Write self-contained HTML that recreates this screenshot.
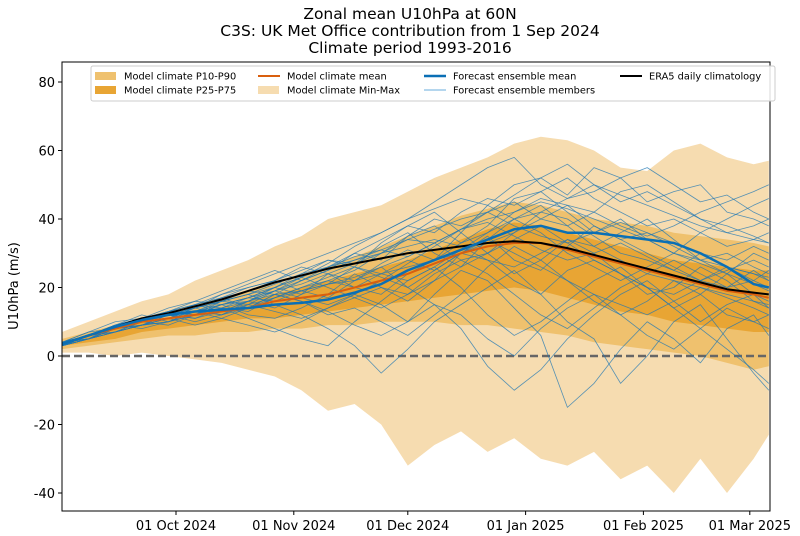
<!DOCTYPE html>
<html><head><meta charset="utf-8"><style>
body{margin:0;background:#fff;}
svg{display:block;font-family:"DejaVu Sans","Liberation Sans",sans-serif;}
</style></head><body>
<svg id="chart" width="800" height="536" viewBox="0 0 800 536">
<g font-size="15.5" text-anchor="middle" fill="#000">
<text x="410" y="19">Zonal mean U10hPa at 60N</text>
<text x="410" y="36">C3S: UK Met Office contribution from 1 Sep 2024</text>
<text x="410" y="53">Climate period 1993-2016</text>
</g>
<defs><clipPath id="pc"><rect x="62" y="62" width="708" height="449"/></clipPath></defs>
<g id="plot" clip-path="url(#pc)"></g>
<rect x="62" y="62" width="708" height="449" fill="none" stroke="#000" stroke-width="1"/>
<g id="axes"></g>
<text x="18" y="286" font-size="13" text-anchor="middle" transform="rotate(-90 18 286)">U10hPa (m/s)</text>
<g id="legend"></g>
</svg>
<script>
const days=[0,7,14,21,28,35,42,49,56,63,70,77,84,91,98,105,112,119,126,133,140,147,154,161,168,175,182,186];
const minMaxUpper=[7,10,13,16,18,22,25,28,32,35,40,42,44,48,52,55,58,62,64,63,60,55,54,60,62,58,56,57];
const minMaxLower=[1,1,0,1,0,-1,-2,-4,-6,-10,-16,-14,-20,-32,-26,-22,-28,-24,-30,-32,-28,-36,-32,-40,-30,-40,-30,-23];
const p90=[5,7,9,11,13,15,17,19,21,23,26,29,32,35,38,41,43,45,44,42,40,39,38,36,35,34,33,32];
const p10=[2,3,4,5,6,6,7,7,8,8,9,9,10,10,10,9,9,8,7,6,4,3,2,1,0,-2,-4,-3];
const p75=[4,6,8,10,11,13,14,16,18,20,22,24,26,28,31,34,37,39,38,36,34,32,30,28,27,26,25,25];
const p25=[3,4,5,7,8,9,10,11,11,12,13,14,15,16,17,18,19,20,19,17,15,13,12,10,9,8,7,7];
const climMean=[3.5,6,8,10,11,12,13,14,16,17,18,20,22,24,27,30,32,33,33,31,29,27,25,23,21,19,18,17];
const era5=[3.5,6,8.5,11,12.5,14.5,16.5,19,21.5,23.5,25.5,27,28.5,30,31,32,33,33.5,33,31.5,29.5,27.5,25.5,23.5,21.5,19.5,18.5,18];
const ensMean=[3.5,6,8.5,10.5,12,13,13.5,14,15,15.5,16.5,18.5,21,25,28,31,34,37,38,36,36,35,34,33,30,26,21,20];
const members=[
[3,6,9,11,12,15,17,14,18,22,25,30,28,35,40,38,42,45,40,38,42,48,50,45,40,38,35,33],
[4,7,8,10,13,14,12,16,20,18,24,22,27,31,28,36,44,50,52,47,55,52,45,48,50,42,40,38],
[3,5,9,12,10,13,16,18,15,12,8,3,-5,2,10,15,20,25,18,10,5,-8,0,10,15,5,-5,-10],
[4,6,8,10,12,11,14,13,17,20,22,25,30,34,33,28,30,36,42,40,35,30,28,25,30,26,22,20],
[3,6,7,9,11,14,18,20,22,19,17,22,26,20,15,8,-3,-10,-4,5,12,18,22,16,10,15,18,14],
[4,7,10,11,14,16,15,12,11,14,18,24,20,16,22,30,35,28,25,32,38,34,30,26,22,20,25,22],
[3,5,8,11,12,10,12,15,19,23,27,32,36,40,45,50,55,58,50,46,48,52,55,50,45,47,42,40],
[4,6,9,8,10,13,11,9,7,10,14,18,15,10,18,25,22,14,6,-15,-8,2,10,5,-2,8,12,6],
[3,6,8,10,9,12,15,17,20,24,28,27,32,36,30,26,34,40,44,38,32,36,40,34,28,30,26,24],
[4,5,8,9,12,15,13,16,14,18,21,26,33,38,42,36,30,24,28,34,30,24,20,14,18,24,30,28],
[3,6,8,11,13,12,16,19,22,26,24,20,18,24,28,33,38,46,48,42,36,40,34,30,36,40,44,46],
[4,6,9,10,11,13,14,11,8,5,3,10,16,22,26,20,12,6,10,16,22,26,20,14,8,2,-4,-8],
[3,5,7,10,12,14,16,18,21,24,26,29,31,34,37,40,42,38,35,33,36,39,36,33,30,28,32,30],
[4,6,8,9,10,12,15,17,16,19,22,20,24,28,25,30,28,22,18,25,28,24,18,20,26,22,16,14],
[3,6,9,11,13,16,19,22,25,22,26,30,34,38,36,42,46,44,48,52,46,42,38,40,36,32,34,36],
[4,5,7,10,11,9,11,14,18,16,12,14,10,6,12,18,26,32,28,22,16,12,16,22,18,12,10,12],
[3,5,8,10,13,15,18,21,24,27,30,33,36,40,43,46,44,40,42,46,50,47,44,41,38,36,34,33],
[4,6,7,9,10,12,13,15,17,19,21,23,26,29,33,37,40,42,45,43,40,37,34,30,27,24,21,19],
[3,6,8,11,12,14,16,15,13,11,14,17,20,18,22,26,30,34,38,33,28,24,20,18,22,26,24,22],
[4,5,7,9,11,13,12,14,17,20,23,26,24,22,26,31,36,40,36,30,26,22,26,30,28,24,18,16],
[3,6,9,10,12,11,13,16,19,17,15,18,22,27,32,37,42,47,52,56,50,45,48,44,40,36,38,40],
[4,6,8,10,12,14,17,19,18,16,13,9,6,10,15,12,5,0,8,14,18,12,6,2,8,14,10,8],
[3,5,7,9,12,14,16,18,20,23,26,28,30,32,34,32,28,26,30,34,32,28,24,22,20,18,16,15],
[4,6,9,11,13,15,14,16,19,22,25,28,31,29,33,37,39,35,31,28,30,33,29,25,22,25,28,26],
[3,5,8,10,11,12,14,17,20,23,20,17,14,18,24,28,24,18,12,8,14,20,24,28,24,20,22,25],
[4,6,8,10,12,13,15,17,19,21,24,27,30,35,38,33,36,42,46,44,38,34,36,32,28,26,24,23],
[3,6,8,9,11,14,17,20,22,25,28,26,23,20,25,30,34,30,26,22,18,15,12,16,20,17,14,12],
[4,5,8,10,12,13,15,16,18,19,21,22,24,26,28,30,33,36,40,44,42,38,35,38,42,45,48,50]
];
const yTicks=[80,60,40,20,0,-20,-40];
const xTickDays=[30,61,91,122,153,181];
const xTickLabels=["01 Oct 2024","01 Nov 2024","01 Dec 2024","01 Jan 2025","01 Feb 2025","01 Mar 2025"];

const NS="http://www.w3.org/2000/svg";
const X=d=>62+d*3.8;
const Y=v=>356-v*3.425;
function mk(tag,attrs,parent){const e=document.createElementNS(NS,tag);for(const k in attrs)e.setAttribute(k,attrs[k]);parent.appendChild(e);return e;}
const plot=document.getElementById('plot');
function band(up,lo,fill){
  let d='M'+days.map((t,i)=>X(t)+','+Y(up[i])).join('L');
  for(let i=days.length-1;i>=0;i--)d+='L'+X(days[i])+','+Y(lo[i]);
  return mk('path',{d:d+'Z',fill:fill},plot);
}
function line(vals,stroke,w,op){
  return mk('path',{d:'M'+days.map((t,i)=>X(t)+','+Y(vals[i])).join('L'),fill:'none',stroke:stroke,'stroke-width':w,'stroke-opacity':op,'stroke-linejoin':'round'},plot);
}
let e;
e=band(minMaxUpper,minMaxLower,'#f6dcb0');


e=band(p90,p10,'#efc16e');


e=band(p75,p25,'#e8a534');


e=mk('line',{x1:62,x2:770,y1:Y(0),y2:Y(0),stroke:'#666','stroke-width':2.5,'stroke-dasharray':'8,4'},plot);


members.forEach((m,i)=>{
  const l=line(m,'#1f77b4',0.8,0.75);
  
  
});
e=line(climMean,'#d95f0e',2,1);


e=line(era5,'#000',2,1);


e=line(ensMean,'#0a6fb5',2.5,1);



const axes=document.getElementById('axes');
yTicks.forEach(v=>{
  const t=mk('line',{x1:58,x2:62,y1:Y(v),y2:Y(v),stroke:'#000'},axes);
  
  
  const l=mk('text',{x:55,y:Y(v)+5,'font-size':13,'text-anchor':'end'},axes);
  l.textContent=v;
  
  
});
xTickDays.forEach((d,i)=>{
  const t=mk('line',{x1:X(d),x2:X(d),y1:511,y2:515,stroke:'#000'},axes);
  
  
  const l=mk('text',{x:X(d),y:530,'font-size':13,'text-anchor':'middle'},axes);
  l.textContent=xTickLabels[i];
  
  
});

const lg=document.getElementById('legend');
mk('rect',{x:91,y:66,width:684,height:35,fill:'#fff','fill-opacity':0.85,stroke:'#ccc',rx:2},lg);
const items=[
 ['patch','#efc16e','Model climate P10-P90',95,76],
 ['patch','#e8a534','Model climate P25-P75',95,90],
 ['line','#d95f0e','Model climate mean',258,76,2],
 ['patch','#f6dcb0','Model climate Min-Max',258,90],
 ['line','#0a6fb5','Forecast ensemble mean',424,76,2.5],
 ['line','#6aaedc','Forecast ensemble members',424,90,1],
 ['line','#000','ERA5 daily climatology',620,76,2]
];
items.forEach(it=>{
  const g=mk('g',{},lg);
  
  
  if(it[0]==='patch')mk('rect',{x:it[3],y:it[4]-4,width:21,height:8,fill:it[1]},g);
  else mk('line',{x1:it[3],x2:it[3]+22,y1:it[4],y2:it[4],stroke:it[1],'stroke-width':it[5]},g);
  const t=mk('text',{x:it[3]+29,y:it[4]+3.5,'font-size':9.8},g);
  t.textContent=it[2];
});
</script>
</body></html>
